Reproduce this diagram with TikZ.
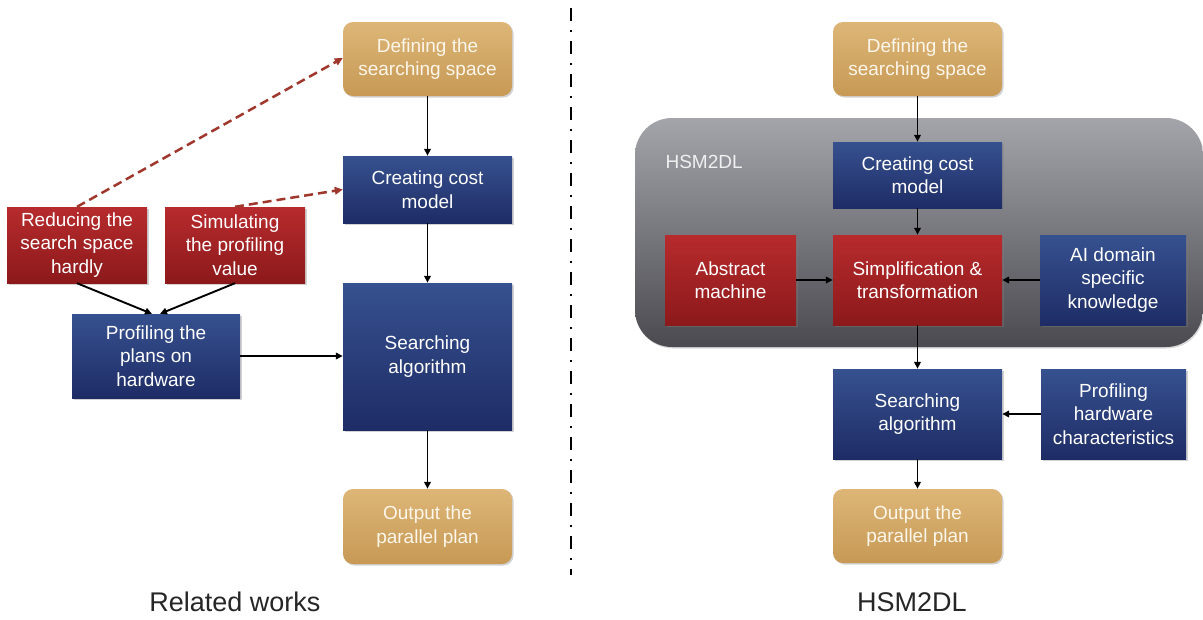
\documentclass[tikz,border=0pt]{standalone}
\usepackage{fontspec}
\setmainfont{Liberation Sans}
\usetikzlibrary{arrows.meta,shadows}
\definecolor{tanT}{HTML}{DDB677}
\definecolor{tanB}{HTML}{C79955}
\definecolor{bluT}{HTML}{36518F}
\definecolor{bluB}{HTML}{1E2C66}
\definecolor{redT}{HTML}{B72B2D}
\definecolor{redB}{HTML}{8C191B}
\definecolor{panT}{HTML}{A4A4AB}
\definecolor{panB}{HTML}{4A4A50}
\definecolor{dashred}{HTML}{A0372C}
\definecolor{cream}{HTML}{FDF6EA}
\begin{document}
\begin{tikzpicture}[x=1pt,y=-1pt,
  base/.style={inner sep=0pt, align=center, font=\fontsize{19}{23.5}\selectfont,
    drop shadow={shadow xshift=1.5pt,shadow yshift=-1.5pt,opacity=0.35}},
  tanbox/.style={base, rounded corners=10pt, top color=tanT, bottom color=tanB, text=cream,
    minimum width=169pt, minimum height=74pt},
  bluebox/.style={base, top color=bluT, bottom color=bluB, text=white},
  redbox/.style={base, top color=redT, bottom color=redB, text=white},
  arr/.style={-{Triangle[length=7pt,width=6.5pt]}, line width=1.9pt, black},
  redarr/.style={-{Triangle[length=8pt,width=7.5pt]}, line width=2.5pt, dashred,
    dash pattern=on 9pt off 5pt},
  caption/.style={font=\fontsize{27}{32}\selectfont, text=black!85},
]
\useasboundingbox (0,0) rectangle (1203,619);
\fill[white] (0,0) rectangle (1203,619);

% ---------- left: Related works ----------
\node[tanbox] (ldef) at (427.5,59) {Defining the\\searching space};
\node[bluebox, minimum width=169pt, minimum height=67pt] (lcost) at (427.5,189.5) {Creating cost\\model};
\node[bluebox, minimum width=169pt, minimum height=147pt] (lsearch) at (427.5,356.5) {Searching\\algorithm};
\node[tanbox, minimum height=75pt] (lout) at (427.5,526.5) {Output the\\parallel plan};
\node[redbox, minimum width=140pt, minimum height=76pt] (lred1) at (77,245) {Reducing the\\search space\\hardly};
\node[redbox, minimum width=140pt, minimum height=76pt] (lred2) at (235,245) {Simulating\\the profiling\\value};
\node[bluebox, minimum width=168pt, minimum height=84pt] (lprof) at (156,356) {Profiling the\\plans on\\hardware};

\draw[arr] (ldef) -- (lcost);
\draw[arr] (lcost) -- (lsearch);
\draw[arr] (lsearch) -- (lout);
\draw[arr] (lred1.south) -- ([xshift=-4pt]lprof.north);
\draw[arr] (lred2.south) -- ([xshift=4pt]lprof.north);
\draw[arr] (lprof.east) -- (lprof.east -| lsearch.west);
\draw[redarr] (lred1.north) -- ([yshift=1pt]ldef.west);
\draw[redarr] (lred2.north) -- (lcost.west);

\node[caption] (lcap) at (235,602) {Related works};

% ---------- divider ----------
\coordinate (dtop) at (571,8);
\coordinate (dbot) at (571,575);
\draw[line width=2.5pt, black, dash pattern=on 13pt off 9pt on 2pt off 9pt] (dtop) -- (dbot);

% ---------- right: HSM2DL ----------
\node[inner sep=0pt, rounded corners=37pt, top color=panT, bottom color=panB,
  minimum width=568pt, minimum height=229pt,
  drop shadow={shadow xshift=1pt,shadow yshift=-1.5pt,opacity=0.3}] (panel) at (919,232.5) {};
\node[anchor=west, font=\fontsize{19}{23}\selectfont, text=white!94!black] (plabel) at (662,162) {HSM2DL};

\node[tanbox] (rdef) at (917.5,59) {Defining the\\searching space};
\node[bluebox, minimum width=169pt, minimum height=66pt] (rcost) at (917.5,175) {Creating cost\\model};
\node[redbox, minimum width=169pt, minimum height=90pt] (rsimp) at (917.5,280) {Simplification \&\\transformation};
\node[redbox, minimum width=131pt, minimum height=90pt] (rabs) at (730.5,280) {Abstract\\machine};
\node[bluebox, minimum width=146pt, minimum height=90pt] (rai) at (1113,280) {AI domain\\specific\\knowledge};
\node[bluebox, minimum width=169pt, minimum height=90pt] (rsearch) at (917.5,414) {Searching\\algorithm};
\node[bluebox, minimum width=145pt, minimum height=90pt] (rprof) at (1113.5,414) {Profiling\\hardware\\characteristics};
\node[tanbox] (rout) at (917.5,526) {Output the\\parallel plan};

\draw[arr] (rdef) -- (rcost);
\draw[arr] (rcost) -- (rsimp);
\draw[arr] (rabs) -- (rsimp);
\draw[arr] (rai) -- (rsimp);
\draw[arr] (rsimp) -- (rsearch);
\draw[arr] (rprof) -- (rsearch);
\draw[arr] (rsearch) -- (rout);

\node[caption] (rcap) at (912,602) {HSM2DL};
\end{tikzpicture}
\end{document}
